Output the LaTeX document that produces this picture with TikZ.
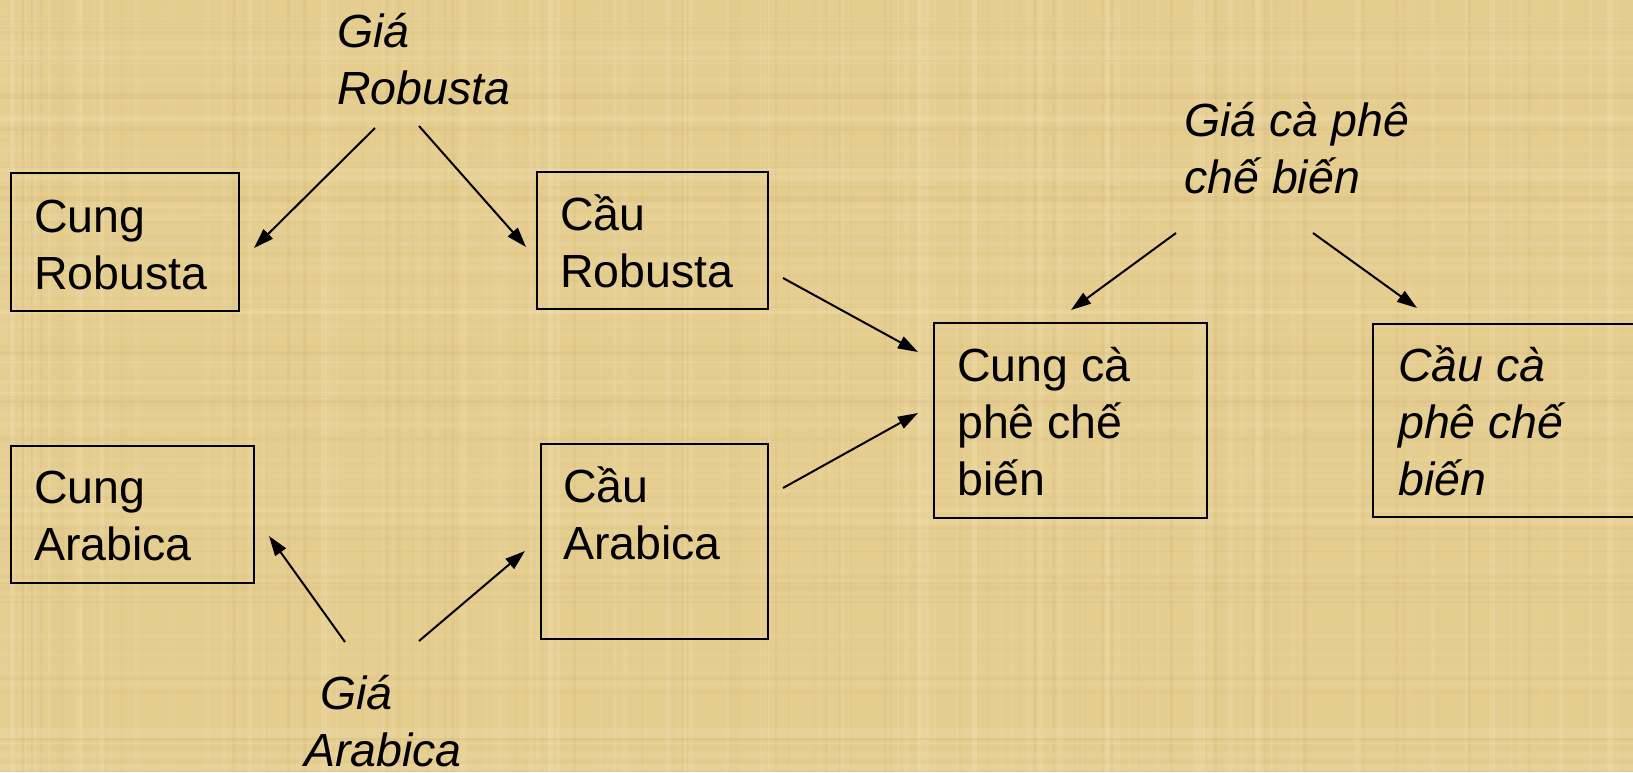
\documentclass[tikz,border=0pt]{standalone}
\usepackage{fontspec}
\setmainfont{Liberation Sans}
\usetikzlibrary{arrows.meta}
\definecolor{parch}{RGB}{229,205,143}
\definecolor{parchlight}{RGB}{246,232,190}
\definecolor{parchdark}{RGB}{196,168,105}
\begin{document}
\begin{tikzpicture}[x=1pt,y=-1pt,
  box/.style={draw=black, line width=2.2pt, rectangle, inner sep=0pt},
  txt/.style={inner sep=0pt, anchor=base west, align=left, font=\fontsize{46.5}{57}\selectfont},
  itxt/.style={inner sep=0pt, anchor=base west, align=left, font=\fontsize{46.5}{57}\selectfont\itshape},
  arr/.style={line width=2pt, -{Triangle[length=20pt,width=13pt]}}]
\clip (0,0) rectangle (1633,772);
% parchment background
\fill[parch] (0,0) rectangle (1633,772);
\pgfmathsetseed{11}
\foreach \i in {1,...,140}{
  \pgfmathsetmacro\xx{rnd*1633}\pgfmathsetmacro\ww{1+rnd*6}\pgfmathsetmacro\oo{0.06+rnd*0.14}
  \fill[parchlight, opacity=\oo] (\xx,0) rectangle ++(\ww,772);}
\foreach \i in {1,...,90}{
  \pgfmathsetmacro\xx{rnd*1633}\pgfmathsetmacro\ww{1+rnd*3}\pgfmathsetmacro\oo{0.05+rnd*0.10}
  \fill[parchdark, opacity=\oo] (\xx,0) rectangle ++(\ww,772);}
\foreach \i in {1,...,90}{
  \pgfmathsetmacro\yy{rnd*772}\pgfmathsetmacro\hh{1+rnd*6}\pgfmathsetmacro\oo{0.05+rnd*0.12}
  \fill[parchlight, opacity=\oo] (0,\yy) rectangle ++(1633,\hh);}
\foreach \i in {1,...,60}{
  \pgfmathsetmacro\yy{rnd*772}\pgfmathsetmacro\hh{1+rnd*3}\pgfmathsetmacro\oo{0.04+rnd*0.08}
  \fill[parchdark, opacity=\oo] (0,\yy) rectangle ++(1633,\hh);}

% boxes
\node[box, minimum width=228pt, minimum height=138pt] (cungR) at (125,242) {};
\node[box, minimum width=231pt, minimum height=137pt] (cauR) at (652.5,240.5) {};
\node[box, minimum width=243pt, minimum height=137pt] (cungA) at (132.5,514.5) {};
\node[box, minimum width=227pt, minimum height=195pt] (cauA) at (654.5,541.5) {};
\node[box, minimum width=273pt, minimum height=195pt] (cungCP) at (1070.5,420.5) {};
\node[box, minimum width=347pt, minimum height=193pt] (cauCP) at (1546.5,420.5) {};

% box texts (anchor = baseline of last line)
\node[txt] (cungRt) at (34,289) {Cung\\Robusta};
\node[txt] (cauRt) at (560,287) {Cầu\\Robusta};
\node[txt] (cungAt) at (34,560) {Cung\\Arabica};
\node[txt] (cauAt) at (563,559) {Cầu\\Arabica};
\node[txt] (cungCPt) at (957,495) {Cung cà\\phê chế\\biến};
\node[itxt] (cauCPt) at (1398,495) {Cầu cà\\phê chế\\biến};

% price labels
\node[itxt] (giaR) at (337,104) {Giá\\Robusta};
\node[itxt] (giaCP) at (1184,193) {Giá cà phê\\chế biến};
\node[itxt] (giaA) at (304,766) {\hspace*{16pt}Giá\\Arabica};

% connector ends
\coordinate (gRa) at (375,128);   \coordinate (cungRin) at (254,248);
\coordinate (gRb) at (419,126);   \coordinate (cauRin) at (526,247);
\coordinate (cauRout) at (783,278); \coordinate (cungCPin1) at (918,352);
\coordinate (cauAout) at (783,488); \coordinate (cungCPin2) at (918,413);
\coordinate (gCPa) at (1176,233); \coordinate (cungCPin3) at (1071,310);
\coordinate (gCPb) at (1313,233); \coordinate (cauCPin) at (1417,308);
\coordinate (gAa) at (345,642);   \coordinate (cungAin) at (269,536);
\coordinate (gAb) at (419,641);   \coordinate (cauAin) at (525,551);

\draw[arr] (gRa) -- (cungRin);
\draw[arr] (gRb) -- (cauRin);
\draw[arr] (cauRout) -- (cungCPin1);
\draw[arr] (cauAout) -- (cungCPin2);
\draw[arr] (gCPa) -- (cungCPin3);
\draw[arr] (gCPb) -- (cauCPin);
\draw[arr] (gAa) -- (cungAin);
\draw[arr] (gAb) -- (cauAin);
\end{tikzpicture}
\end{document}
